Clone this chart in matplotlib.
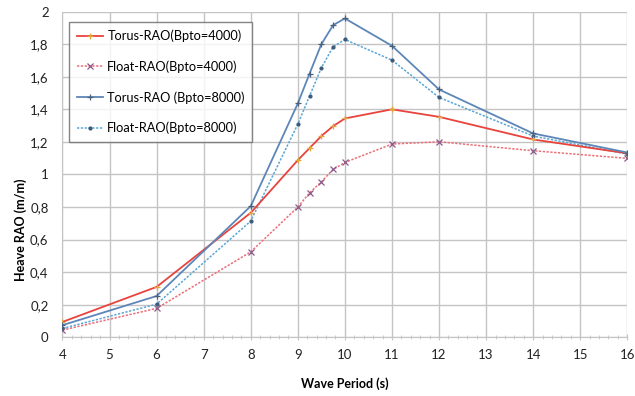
import matplotlib
matplotlib.use("Agg")
import matplotlib.pyplot as plt
from matplotlib.ticker import MultipleLocator, FuncFormatter

plt.rcParams['font.family'] = ['Lato', 'DejaVu Sans']

period = [4, 6, 8, 9, 9.25, 9.5, 9.75, 10, 11, 12, 14, 16]

torus_4000 = [0.095, 0.31, 0.765, 1.088, 1.162, 1.236, 1.297, 1.344, 1.40, 1.354, 1.215, 1.13]
float_4000 = [0.045, 0.178, 0.525, 0.80, 0.888, 0.955, 1.031, 1.074, 1.187, 1.201, 1.146, 1.099]
torus_8000 = [0.075, 0.254, 0.806, 1.436, 1.62, 1.80, 1.917, 1.958, 1.79, 1.522, 1.252, 1.135]
float_8000 = [0.055, 0.204, 0.714, 1.309, 1.483, 1.655, 1.784, 1.829, 1.702, 1.473, 1.236, 1.125]

labels = ["Torus-RAO(Bpto=4000)", "Float-RAO(Bpto=4000)",
          "Torus-RAO (Bpto=8000)", "Float-RAO(Bpto=8000)"]

fig = plt.figure(figsize=(6.35, 3.96), dpi=100)
ax = fig.add_axes([0.0984, 0.148, 0.8895, 0.8227])

ax.plot(period, torus_4000, color="#e8433c", lw=1.3, marker="+", ms=5,
        mec="#e0a83a", mew=0.9, label=labels[0], zorder=4)
ax.plot(period, float_4000, color="#ec6f78", lw=1.1, ls=(0, (1.5, 1)), marker="x", ms=4.5,
        mec="#8a5a8a", mew=0.9, label=labels[1], zorder=3)
ax.plot(period, torus_8000, color="#5d86b8", lw=1.3, marker="+", ms=4,
        mec="#4a5f7a", mew=0.9, label=labels[2], zorder=4)
ax.plot(period, float_8000, color="#5aa6d6", lw=1.1, ls=(0, (1.5, 1)), marker=".", ms=4,
        mec="#3d5a7a", mfc="#3d5a7a", label=labels[3], zorder=3)

ax.set_xlim(4, 16)
ax.set_ylim(0, 2)
ax.xaxis.set_major_locator(MultipleLocator(1))
ax.xaxis.set_minor_locator(MultipleLocator(0.2))
ax.yaxis.set_major_locator(MultipleLocator(0.2))
ax.yaxis.set_major_formatter(FuncFormatter(
    lambda v, _: ("%g" % round(v, 1)).replace(".", ",")))

ax.grid(True, which="major", color="#c4c4c4", lw=1.0)
ax.set_axisbelow(True)
for s in ax.spines.values():
    s.set_visible(False)
ax.spines["bottom"].set_visible(True)
ax.spines["bottom"].set_color("#c4c4c4")
ax.spines["left"].set_visible(True)
ax.spines["left"].set_color("#c4c4c4")

ax.tick_params(axis="both", which="major", labelsize=9.5, colors="#c4c4c4",
               labelcolor="#222222", length=4, direction="inout")
ax.tick_params(axis="y", which="major", length=0, pad=10)
ax.tick_params(axis="x", which="major", pad=6)
ax.tick_params(axis="x", which="minor", length=3, direction="inout", colors="#c4c4c4")

ax.set_xlabel("Wave Period (s)", fontsize=9, fontweight="bold", labelpad=12)
ax.set_ylabel("Heave RAO (m/m)", fontsize=9, fontweight="bold")
ax.yaxis.set_label_coords(-0.062, 0.33)

leg = ax.legend(loc="upper left", bbox_to_anchor=(0.0115, 0.968), fontsize=9.2,
                frameon=True, fancybox=False, edgecolor="#666666",
                handlelength=2.1, handletextpad=0.3, labelspacing=1.42,
                borderpad=0.6, borderaxespad=0)
leg.get_frame().set_linewidth(1.0)

fig.savefig("out.png", dpi=100)
